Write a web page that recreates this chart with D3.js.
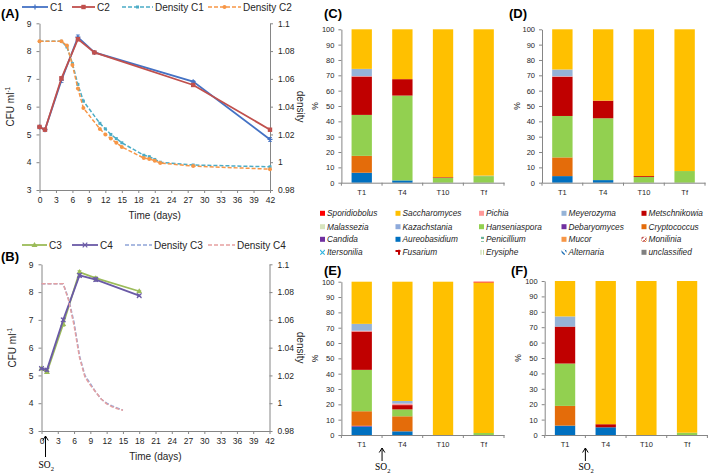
<!DOCTYPE html>
<html><head><meta charset="utf-8">
<script src="https://cdn.jsdelivr.net/npm/d3@7"></script>
<style>body{margin:0;background:#fff}svg{display:block}</style>
</head><body><svg id="c" width="709" height="476"></svg>
<script>
// ---------- DATA ----------
const dayTicks = [0,3,6,9,12,15,18,21,24,27,30,33,36,39,42];
const cfuTicks = [3,4,5,6,7,8,9];
const densTicks = [0.98,1,1.02,1.04,1.06,1.08,1.1];

const daysA = [0,1,4,7,10,28,42];
const c1 = [5.27,5.17,6.95,8.5,7.95,6.9,4.82];
const c1Err = [0.03,0.03,0.08,0.08,0.03,0.04,0.07];
const c2 = [5.27,5.17,7.02,8.43,7.95,6.78,5.17];
const c2Err = [0.03,0.03,0.05,0.06,0.03,0.03,0.04];
const densDaysA = [0,4,5,6,7,8,11,12,13,14,15,19,20,21,22,28,42];
const densC1 = [1.087,1.087,1.083,1.071,1.056,1.044,1.028,1.024,1.020,1.017,1.014,1.005,1.004,1.002,1.000,0.998,0.9967];
const densC2 = [1.087,1.087,1.084,1.070,1.053,1.039,1.024,1.020,1.017,1.014,1.011,1.003,1.0024,1.001,0.9994,0.9972,0.9950];

const daysB = [0,1,4,7,10,18];
const c3 = [5.25,5.12,6.85,8.72,8.5,8.03];
const c3Err = [0.03,0.05,0.08,0.05,0.05,0.03];
const c4 = [5.25,5.2,7.0,8.6,8.45,7.87];
const c4Err = [0.03,0.05,0.06,0.06,0.07,0.03];
const densDaysB = [0,4,5,6,7,8,9,10,11,12,13,14,15];
const densC3 = [1.086,1.086,1.075,1.058,1.034,1.020,1.014,1.008,1.003,1.000,0.998,0.9965,0.995];
const densC4 = [1.086,1.086,1.074,1.056,1.033,1.019,1.013,1.008,1.003,0.9995,0.9975,0.996,0.995];

const samples = ["T1","T4","T10","Tf"];
const pctTicks = [0,10,20,30,40,50,60,70,80,90,100];
const stackOrder = ["Aureobasidium","Candida","Cryptococcus","Hanseniaspora","Metschnikowia","Pichia","Meyerozyma","Saccharomyces","Sporidiobolus"];
// rows = samples (T1,T4,T10,Tf), columns = stackOrder
const panelC = [[6.5,0,11,26.7,25,0.3,4.7,25.8,0],[1.5,0,0,55.3,10.7,0,0,32.5,0],[0,0,0,3.2,0.4,0,0,96.4,0],[0,0,0,4.3,0,0,0.3,95.4,0]];
const panelD = [[4.3,0,12.2,27,25.6,0.3,4.4,26.2,0],[1.7,0,0,40.3,11.5,0,0,46.5,0],[0,0,0,3.7,0.6,0,0,95.7,0],[0,0,0,7.6,0,0,0,92.4,0]];
const panelE = [[5.5,0.5,9.5,27,25,0.5,4.5,27.5,0],[2.4,0,9.8,4.5,2.8,1.0,1.7,77.8,0],[0,0,0,0,0,0,0,100,0],[0,0,0,1.3,0,0,0,98.2,0.5]];
const panelF = [[6.1,0,12.8,27.5,24,0,6.6,23,0],[5,0,0,0,2,0,0,93,0],[0,0,0,0,0,0,0,100,0],[0,0,0,1.5,0,0,0,98.5,0]];

const legendRows = [
  ["Sporidiobolus","Saccharomyces","Pichia","Meyerozyma","Metschnikowia"],
  ["Malassezia","Kazachstania","Hanseniaspora","Debaryomyces","Cryptococcus"],
  ["Candida","Aureobasidium","Penicillium","Mucor","Monilinia"],
  ["Itersonilia","Fusarium","Erysiphe","Alternaria","unclassified"]
];

// ---------- STYLE ----------
const genusColor = {
  Sporidiobolus:"#ff0000", Saccharomyces:"#ffc000", Pichia:"#ff9999", Meyerozyma:"#95b3d7", Metschnikowia:"#c00000",
  Malassezia:"#d7e4bd", Kazachstania:"#8eaadb", Hanseniaspora:"#92d050", Debaryomyces:"#7030a0", Cryptococcus:"#e46c0a",
  Candida:"#7030a0", Aureobasidium:"#0070c0", Penicillium:"url(#pPen)", Mucor:"#f79646", Monilinia:"url(#pMon)",
  Itersonilia:"url(#pIte)", Fusarium:"url(#pFus)", Erysiphe:"url(#pEry)", Alternaria:"url(#pAlt)", unclassified:"#808080"
};
const FONT = "'Liberation Sans', Arial, sans-serif";
const AX = "#868686";
const TXT = "#262626";

const svg = d3.select("#c");
svg.append("rect").attr("width",709).attr("height",476).attr("fill","#fff");

// patterns
const defs = svg.append("defs");
function pat(id, draw){ const p = defs.append("pattern").attr("id",id).attr("patternUnits","userSpaceOnUse").attr("width",5).attr("height",5); p.append("rect").attr("width",5).attr("height",5).attr("fill","#fff"); draw(p); }
pat("pPen", p=>{ p.append("rect").attr("x",1).attr("y",1).attr("width",3).attr("height",3).attr("fill","#4bacc6"); p.append("path").attr("d","M1,1L4,4M4,1L1,4").attr("stroke","#9bbb59").attr("stroke-width",0.8); });
pat("pMon", p=>{ p.append("path").attr("d","M0,5L5,0").attr("stroke","#c0504d").attr("stroke-width",1.6); p.append("path").attr("d","M0,2L2,0").attr("stroke","#e46c0a").attr("stroke-width",1); });
pat("pIte", p=>{ p.append("path").attr("d","M0,0L5,5M5,0L0,5").attr("stroke","#31b5e0").attr("stroke-width",1.2); });
pat("pFus", p=>{ p.append("rect").attr("width",5).attr("height",2).attr("fill","#c00000"); p.append("rect").attr("x",3).attr("width",2).attr("height",5).attr("fill","#c00000"); });
pat("pEry", p=>{ p.append("path").attr("d","M1,0V5M3.5,0V5").attr("stroke","#c3d69b").attr("stroke-width",1); });
pat("pAlt", p=>{ p.append("path").attr("d","M0,0L5,5").attr("stroke","#1f6fb5").attr("stroke-width",1.4); });

function txt(g, x, y, s, o={}) {
  return g.append("text").attr("x",x).attr("y",y).text(s)
    .attr("font-family",FONT).attr("font-size",o.size||8).attr("fill",o.fill||TXT)
    .attr("text-anchor",o.anchor||"start").attr("font-weight",o.weight||"normal")
    .attr("font-style",o.style||"normal");
}

function arrowSO2(x, yTop, yBot, yText) {
  svg.append("path").attr("d",`M${x},${yBot}V${yTop}M${x-2.8},${yTop+4.5}L${x},${yTop}L${x+2.8},${yTop+4.5}`)
    .attr("stroke","#000").attr("stroke-width",1).attr("fill","none");
  const t = svg.append("text").attr("x",x-7).attr("y",yText).attr("font-family","'Liberation Serif', 'Times New Roman', serif").attr("font-size",9.5).attr("fill","#000");
  t.append("tspan").text("SO");
  t.append("tspan").text("2").attr("font-size",6.5).attr("dy",2.5);
}

// ---------- LINE PANELS ----------
function linePanel(cfg) {
  const x = d3.scaleLinear().domain([0,42]).range([cfg.x0, cfg.x1]);
  const y = d3.scaleLinear().domain([3,9]).range([cfg.yb, cfg.yt]);
  const yd = d3.scaleLinear().domain([0.98,1.1]).range([cfg.yb, cfg.yt]);
  const g = svg.append("g");

  const axX = g.append("g").attr("transform",`translate(0,${cfg.yb})`).call(d3.axisBottom(x).tickValues(dayTicks).tickSize(3).tickSizeOuter(0).tickPadding(4).tickFormat(d3.format("d")));
  const axL = g.append("g").attr("transform",`translate(${cfg.x0},0)`).call(d3.axisLeft(y).tickValues(cfuTicks).tickSize(3).tickSizeOuter(0).tickPadding(5).tickFormat(d3.format("d")));
  const axR = g.append("g").attr("transform",`translate(${cfg.x1},0)`).call(d3.axisRight(yd).tickValues(densTicks).tickSize(3).tickSizeOuter(0).tickPadding(5).tickFormat(d=> String(+d.toFixed(2))));
  [axX,axL,axR].forEach(a=>{ a.selectAll("path,line").attr("stroke",AX); a.selectAll("text").attr("font-family",FONT).attr("font-size",8.5).attr("fill",TXT); });

  // titles
  txt(g, (cfg.x0+cfg.x1)/2, cfg.yb+29, "Time (days)", {size:10, anchor:"middle"});
  const tl = g.append("text").attr("transform",`translate(${cfg.x0-26},${(cfg.yt+cfg.yb)/2}) rotate(-90)`)
    .attr("text-anchor","middle").attr("font-family",FONT).attr("font-size",10).attr("fill",TXT);
  tl.append("tspan").text("CFU ml");
  tl.append("tspan").text("-1").attr("font-size",6.5).attr("dy",-4);
  g.append("text").attr("transform",`translate(${cfg.x1+27},${(cfg.yt+cfg.yb)/2}) rotate(90)`)
    .attr("text-anchor","middle").attr("font-family",FONT).attr("font-size",10).attr("fill",TXT).text("density");
  txt(g, 1, cfg.labelY, cfg.label, {size:13, weight:"bold", fill:"#000"});

  // series
  cfg.series.forEach(s=>{
    const pts = s.days.map((d,i)=>[d, s.vals[i], s.err? s.err[i]:0]);
    const sy = s.dens ? yd : y;
    const line = d3.line().x(d=>x(d[0])).y(d=>sy(d[1]));
    g.append("path").attr("d",line(pts)).attr("fill","none").attr("stroke",s.color)
      .attr("stroke-width",s.width||1.8).attr("stroke-dasharray",s.dash||null);
    if (s.err) {
      g.selectAll(null).data(pts).enter().append("path")
        .attr("d",d=>`M${x(d[0])-2},${sy(d[1]-d[2])}H${x(d[0])+2}M${x(d[0])},${sy(d[1]-d[2])}V${sy(d[1]+d[2])}M${x(d[0])-2},${sy(d[1]+d[2])}H${x(d[0])+2}`)
        .attr("stroke",s.color).attr("stroke-width",0.8).attr("fill","none");
    }
    pts.forEach(d=>marker(g, s.marker, x(d[0]), sy(d[1]), s.color));
  });

  // legend
  cfg.series.forEach((s,i)=>{
    const L = cfg.legend[i];
    g.append("line").attr("x1",L[0]).attr("x2",L[1]).attr("y1",cfg.legY).attr("y2",cfg.legY)
      .attr("stroke",s.color).attr("stroke-width",s.width||1.8).attr("stroke-dasharray",s.dash||null);
    marker(g, s.marker, (L[0]+L[1])/2, cfg.legY, s.color);
    txt(g, L[1]+2, cfg.legY+3.5, s.name, {size:10});
  });
}

function marker(g, type, cx, cy, col) {
  if (!type) return;
  if (type==="square") g.append("rect").attr("x",cx-2.2).attr("y",cy-2.2).attr("width",4.4).attr("height",4.4).attr("fill",col);
  else if (type==="small") g.append("rect").attr("x",cx-1.5).attr("y",cy-1.5).attr("width",3).attr("height",3).attr("fill",col);
  else if (type==="circle") g.append("circle").attr("cx",cx).attr("cy",cy).attr("r",2).attr("fill",col);
  else if (type==="plus") g.append("path").attr("d",`M${cx-2.5},${cy}H${cx+2.5}M${cx},${cy-2.5}V${cy+2.5}`).attr("stroke",col).attr("stroke-width",1.2);
  else if (type==="tri") g.append("path").attr("d",`M${cx},${cy-3}L${cx+3},${cy+2}L${cx-3},${cy+2}Z`).attr("fill",col);
  else if (type==="x") g.append("path").attr("d",`M${cx-2.3},${cy-2.3}L${cx+2.3},${cy+2.3}M${cx+2.3},${cy-2.3}L${cx-2.3},${cy+2.3}`).attr("stroke",col).attr("stroke-width",1.2);
}

linePanel({
  x0:39.5, x1:270, yt:23.3, yb:190, label:"(A)", labelY:18, legY:7,
  legend:[[22,48],[72,95],[122,153],[208,241]],
  series:[
    {name:"C1", days:daysA, vals:c1, err:c1Err, color:"#4472c4", marker:"plus"},
    {name:"C2", days:daysA, vals:c2, err:c2Err, color:"#c0504d", marker:"square"},
    {name:"Density C1", days:densDaysA, vals:densC1, dens:true, color:"#4bacc6", marker:"small", dash:"4,2", width:1.5},
    {name:"Density C2", days:densDaysA, vals:densC2, dens:true, color:"#f79646", marker:"circle", dash:"4,2", width:1.5}
  ]
});
linePanel({
  x0:41.5, x1:269.5, yt:264.3, yb:431, label:"(B)", labelY:261, legY:245,
  legend:[[22,47],[72,98],[125,152],[208,235]],
  series:[
    {name:"C3", days:daysB, vals:c3, err:c3Err, color:"#9bbb59", marker:"tri"},
    {name:"C4", days:daysB, vals:c4, err:c4Err, color:"#6a5aa6", marker:"x"},
    {name:"Density C3", days:densDaysB, vals:densC3, dens:true, color:"#8ea4d8", dash:"4,2", width:1.5},
    {name:"Density C4", days:densDaysB, vals:densC4, dens:true, color:"#e6a0a0", dash:"4,2", width:1.5}
  ]
});
arrowSO2(45.5, 436, 457, 468);

// ---------- BAR PANELS ----------
function barPanel(cfg) {
  const g = svg.append("g");
  const x = d3.scaleBand().domain(samples).range([cfg.x0, cfg.x1]).paddingInner(0.5).paddingOuter(0.25);
  const y = d3.scaleLinear().domain([0,100]).range([cfg.yb, cfg.yt]);
  const rows = samples.map((s,i)=>{ const o={sample:s}; stackOrder.forEach((k,j)=>o[k]=cfg.data[i][j]); return o; });
  const stacked = d3.stack().keys(stackOrder)(rows);
  g.selectAll("g.s").data(stacked).enter().append("g").attr("fill",d=>genusColor[d.key])
    .selectAll("rect").data(d=>d.filter(v=>v[1]-v[0]>0)).enter().append("rect")
    .attr("x",d=>x(d.data.sample)).attr("width",x.bandwidth())
    .attr("y",d=>y(d[1])).attr("height",d=>y(d[0])-y(d[1]));

  const axL = g.append("g").attr("transform",`translate(${cfg.x0},0)`).call(d3.axisLeft(y).tickValues(pctTicks).tickSize(3).tickSizeOuter(0).tickPadding(4));
  const axB = g.append("g").attr("transform",`translate(0,${cfg.yb})`).call(d3.axisBottom(x).tickSize(0).tickSizeOuter(0).tickPadding(7));
  [axL,axB].forEach(a=>{ a.selectAll("path,line").attr("stroke",AX); a.selectAll("text").attr("font-family",FONT).attr("font-size",7.5).attr("fill",TXT); });
  // tick marks between categories
  d3.range(5).forEach(k=>{
    const px = cfg.x0 + k*(cfg.x1-cfg.x0)/4;
    g.append("line").attr("x1",px).attr("x2",px).attr("y1",cfg.yb).attr("y2",cfg.yb+3).attr("stroke",AX);
  });
  g.append("text").attr("transform",`translate(${cfg.pctX},${(cfg.yt+cfg.yb)/2}) rotate(-90)`)
    .attr("text-anchor","middle").attr("font-family",FONT).attr("font-size",8.5).attr("fill",TXT).text("%");
  txt(g, cfg.lx, cfg.ly, cfg.label, {size:13, weight:"bold", fill:"#000"});
  if (cfg.so2) arrowSO2(cfg.x0 + (cfg.x1-cfg.x0)/4, cfg.yb+13, cfg.yb+26, cfg.yb+35);
}

barPanel({x0:341.4, x1:504, yt:29.3, yb:182.7, data:panelC, label:"(C)", lx:324, ly:18, pctX:318});
barPanel({x0:542, x1:705, yt:29.3, yb:182.7, data:panelD, label:"(D)", lx:509, ly:18, pctX:520});
barPanel({x0:341.4, x1:504, yt:281.7, yb:435, data:panelE, label:"(E)", lx:324, ly:275, pctX:318, so2:true});
barPanel({x0:544.7, x1:707.4, yt:281, yb:435, data:panelF, label:"(F)", lx:511, ly:275, pctX:521, so2:true});

// ---------- LEGEND ----------
const legCols = [320, 395.5, 479, 561.5, 641.5];
const legYs = [213.3, 226.7, 239.3, 252.3];
const lg = svg.append("g");
legendRows.forEach((row,r)=>row.forEach((name,c)=>{
  lg.append("rect").attr("x",legCols[c]).attr("y",legYs[r]-2.5).attr("width",5).attr("height",5).attr("fill",genusColor[name]);
  txt(lg, legCols[c]+7, legYs[r]+3, name, {size:8.3, style:"italic"});
}));
</script></body></html>
